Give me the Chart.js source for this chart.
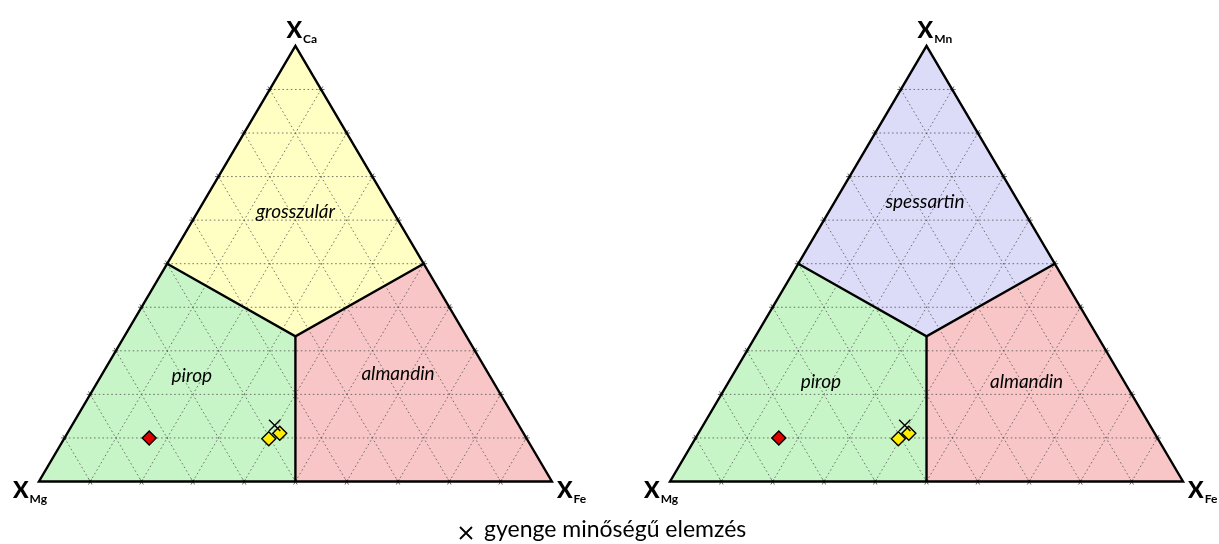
<!DOCTYPE html>
<html>
<head>
<meta charset="utf-8">
<script src="https://cdn.jsdelivr.net/npm/chart.js@4/dist/chart.umd.min.js"></script>
<style>
  html, body { margin: 0; padding: 0; background: #ffffff; }
  #wrap { width: 1219px; height: 544px; }
</style>
</head>
<body>
<div id="wrap"><canvas id="c" width="1219" height="544"></canvas></div>
<script>
// End-member names of the two garnet ternaries (bottom-left, bottom-right, top)
const leftVertices  = ['Mg', 'Fe', 'Ca'];
const rightVertices = ['Mg', 'Fe', 'Mn'];
const leftFields    = ['pirop', 'almandin', 'grosszulár'];
const rightFields   = ['pirop', 'almandin', 'spessartin'];

// Analyses as [X_Fe, X_top]; X_Mg = 1 - X_Fe - X_top
const redLeft     = [[0.165, 0.100]];
const yellowLeft  = [[0.399, 0.098], [0.414, 0.111]];
const poorLeft    = [[0.395, 0.129]];
const redRight    = [[0.162, 0.100]];
const yellowRight = [[0.396, 0.098], [0.410, 0.111]];
const poorRight   = [[0.393, 0.129]];

const legendText = 'gyenge minőségű elemzés';
const gridSteps = [0.1, 0.2, 0.3, 0.4, 0.5, 0.6, 0.7, 0.8, 0.9];

// ternary -> cartesian; second triangle is shifted along x
const H = Math.sqrt(3) / 2;
const K = 521;                    // pixels per composition unit
const RIGHT_SHIFT = 641 / K;
function tern(fe, top, shift) { return { x: shift + fe + top / 2, y: top * H }; }
function pts(list, shift) { return list.map(p => tern(p[0], p[1], shift)); }

const FILL_TOP = ['#ffffc4', '#dcdcf9'];
const FILL_MG = '#c8f5c8';
const FILL_FE = '#f8c6c6';

function outline(shift) {
  return [tern(0,0,shift), tern(1,0,shift), tern(0,1,shift), tern(0,0,shift), tern(1,0,shift)];
}
function upperDivider(shift) {
  return [tern(0,0.5,shift), tern(1/3,1/3,shift), tern(0.5,0.5,shift)];
}
function lowerDivider(shift) {
  return [tern(1/3,1/3,shift), tern(0.5,0,shift)];
}
function lineSet(data) {
  return { type: 'scatter', data, showLine: true, borderColor: '#000', borderWidth: 2.4,
           pointRadius: 0, borderJoinStyle: 'miter', borderCapStyle: 'butt', order: 2 };
}
function markerSet(data, color, style, radius) {
  return { type: 'scatter', data, pointStyle: style, pointRadius: radius, pointHoverRadius: radius,
           backgroundColor: color, borderColor: '#000', borderWidth: 1.4, order: 1 };
}

const triangles = [
  { shift: 0, vertices: leftVertices, fields: leftFields, topFill: FILL_TOP[0],
    labelPos: [[0.298, 0.21], [0.70, 0.214], [0.5, 0.536]] },
  { shift: RIGHT_SHIFT, vertices: rightVertices, fields: rightFields, topFill: FILL_TOP[1],
    labelPos: [[0.294, 0.199], [0.695, 0.199], [0.497, 0.556]] }
];

const ternaryPlugin = {
  id: 'ternary',
  beforeDatasetsDraw(chart) {
    const { ctx, scales: { x, y } } = chart;
    const P = p => [x.getPixelForValue(p.x), y.getPixelForValue(p.y)];
    const poly = (list, color) => {
      ctx.beginPath();
      list.forEach((p, i) => { const q = P(p); i ? ctx.lineTo(q[0], q[1]) : ctx.moveTo(q[0], q[1]); });
      ctx.closePath(); ctx.fillStyle = color; ctx.fill();
    };
    ctx.save();
    triangles.forEach(t => {
      const s = t.shift, c = tern(1/3, 1/3, s);
      poly([tern(0,0,s), tern(0.5,0,s), c, tern(0,0.5,s)], FILL_MG);
      poly([tern(1,0,s), tern(0.5,0.5,s), c, tern(0.5,0,s)], FILL_FE);
      poly([tern(0,1,s), tern(0,0.5,s), c, tern(0.5,0.5,s)], t.topFill);
      // dotted composition grid
      const segs = [];
      gridSteps.forEach(v => {
        segs.push([tern(0, v, s), tern(1 - v, v, s)]);   // constant top component
        segs.push([tern(v, 0, s), tern(v, 1 - v, s)]);   // constant Fe
        segs.push([tern(0, v, s), tern(v, 0, s)]);       // constant Mg
      });
      ctx.strokeStyle = 'rgba(85,85,85,0.8)';
      ctx.lineWidth = 1;
      ctx.setLineDash([1.6, 2.6]);
      segs.forEach(sg => {
        const a = P(sg[0]), b = P(sg[1]);
        ctx.beginPath(); ctx.moveTo(a[0], a[1]); ctx.lineTo(b[0], b[1]); ctx.stroke();
      });
      // small tick crosses where grid lines meet the edges
      ctx.setLineDash([]);
      ctx.strokeStyle = 'rgba(70,70,70,0.85)';
      segs.forEach(sg => {
        const a = P(sg[0]), b = P(sg[1]);
        const dx = b[0] - a[0], dy = b[1] - a[1], L = Math.hypot(dx, dy), ux = dx / L, uy = dy / L, e = 3.5;
        ctx.beginPath();
        ctx.moveTo(a[0] - ux * e, a[1] - uy * e); ctx.lineTo(a[0] + ux * 2.5, a[1] + uy * 2.5);
        ctx.moveTo(b[0] + ux * e, b[1] + uy * e); ctx.lineTo(b[0] - ux * 2.5, b[1] - uy * 2.5);
        ctx.stroke();
      });
    });
    ctx.restore();
  },
  afterDraw(chart) {
    const { ctx, scales: { x, y } } = chart;
    const P = p => [x.getPixelForValue(p.x), y.getPixelForValue(p.y)];
    ctx.save();
    ctx.fillStyle = '#000';
    triangles.forEach(t => {
      const s = t.shift;
      // field names
      ctx.font = 'italic 19px Lato, "Open Sans", sans-serif';
      ctx.textAlign = 'center'; ctx.textBaseline = 'middle';
      t.fields.forEach((name, i) => {
        const q = P({ x: s + t.labelPos[i][0], y: t.labelPos[i][1] });
        ctx.fillText(name, q[0], q[1]);
      });
      // vertex labels X with subscript
      const corners = [tern(0,0,s), tern(1,0,s), tern(0,1,s)];
      const off = [[-26, 9], [5, 9], [-9, -15]];
      corners.forEach((cp, i) => {
        const q = P(cp);
        const bx = q[0] + off[i][0], by = q[1] + off[i][1];
        ctx.textAlign = 'left'; ctx.textBaseline = 'alphabetic';
        ctx.font = '900 23px Lato, "Open Sans", sans-serif';
        ctx.fillText('X', bx, by + 7);
        const w = ctx.measureText('X').width;
        ctx.font = 'bold 12px Lato, "Open Sans", sans-serif';
        ctx.fillText(t.vertices[i], bx + w + 1, by + 12);
      });
    });
    // legend line for the poor-quality marker
    ctx.strokeStyle = '#000'; ctx.lineWidth = 1.8;
    const lx = 466, ly = 533, r = 6;
    ctx.beginPath();
    ctx.moveTo(lx - r, ly - r); ctx.lineTo(lx + r, ly + r);
    ctx.moveTo(lx + r, ly - r); ctx.lineTo(lx - r, ly + r);
    ctx.stroke();
    ctx.font = '23px Lato, "Open Sans", sans-serif';
    ctx.textAlign = 'left'; ctx.textBaseline = 'middle';
    ctx.fillText(legendText, 484, 530);
    ctx.restore();
  }
};

new Chart(document.getElementById('c'), {
  type: 'scatter',
  data: {
    datasets: [
      lineSet(outline(0)), lineSet(upperDivider(0)), lineSet(lowerDivider(0)),
      lineSet(outline(RIGHT_SHIFT)), lineSet(upperDivider(RIGHT_SHIFT)), lineSet(lowerDivider(RIGHT_SHIFT)),
      markerSet(pts(poorLeft, 0), 'rgba(0,0,0,0)', 'crossRot', 8),
      markerSet(pts(poorRight, RIGHT_SHIFT), 'rgba(0,0,0,0)', 'crossRot', 8),
      markerSet(pts(redLeft, 0), '#e00000', 'rectRot', 7),
      markerSet(pts(redRight, RIGHT_SHIFT), '#e00000', 'rectRot', 7),
      markerSet(pts(yellowLeft, 0), '#ffee00', 'rectRot', 7),
      markerSet(pts(yellowRight, RIGHT_SHIFT), '#ffee00', 'rectRot', 7)
    ]
  },
  options: {
    responsive: false,
    animation: false,
    layout: { padding: 0 },
    plugins: { legend: { display: false }, tooltip: { enabled: false } },
    elements: { line: { tension: 0 } },
    scales: {
      x: { type: 'linear', display: false, min: -30 / K, max: 1189 / K },
      y: { type: 'linear', display: false, min: -55 / K, max: 489 / K }
    }
  },
  plugins: [ternaryPlugin]
});
</script>
</body>
</html>
